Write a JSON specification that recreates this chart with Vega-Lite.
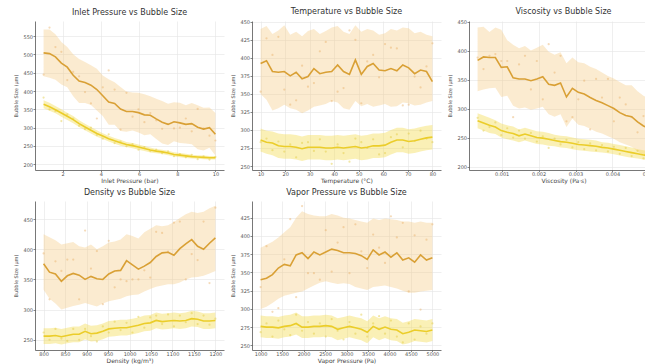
{
  "$schema": "https://vega.github.io/schema/vega-lite/v6.json",
  "background": "white",
  "padding": {"left": 13, "top": 7, "right": 0, "bottom": 0},
  "bounds": "flush",
  "columns": 3,
  "spacing": {"row": 31, "column": 28},
  "datasets": {
    "curves": [
      {"p":1,"x":1.00,"a":504,"alo":440,"ahi":568,"ar":445,"b":364,"blo":353,"bhi":375,"br":382},
      {"p":1,"x":1.31,"a":502,"alo":436,"ahi":568,"ar":573,"b":357,"blo":346,"bhi":368,"br":350},
      {"p":1,"x":1.62,"a":493,"alo":431,"ahi":555,"ar":520,"b":349,"blo":339,"bhi":359,"br":345},
      {"p":1,"x":1.93,"a":476,"alo":418,"ahi":534,"ar":507,"b":340,"blo":330,"bhi":350,"br":318},
      {"p":1,"x":2.24,"a":465,"alo":410,"ahi":520,"ar":430,"b":331,"blo":321,"bhi":341,"br":336},
      {"p":1,"x":2.55,"a":443,"alo":386,"ahi":500,"ar":452,"b":322,"blo":312,"bhi":332,"br":325},
      {"p":1,"x":2.86,"a":427,"alo":367,"ahi":487,"ar":440,"b":311,"blo":302,"bhi":320,"br":305},
      {"p":1,"x":3.17,"a":423,"alo":367,"ahi":479,"ar":397,"b":302,"blo":293,"bhi":311,"br":296},
      {"p":1,"x":3.48,"a":416,"alo":362,"ahi":470,"ar":366,"b":293,"blo":284,"bhi":302,"br":300},
      {"p":1,"x":3.79,"a":404,"alo":347,"ahi":461,"ar":325,"b":284,"blo":275,"bhi":293,"br":280},
      {"p":1,"x":4.10,"a":387,"alo":332,"ahi":442,"ar":410,"b":277,"blo":269,"bhi":285,"br":270},
      {"p":1,"x":4.41,"a":370,"alo":308,"ahi":432,"ar":456,"b":270,"blo":262,"bhi":278,"br":282},
      {"p":1,"x":4.72,"a":366,"alo":308,"ahi":424,"ar":404,"b":264,"blo":256,"bhi":272,"br":258},
      {"p":1,"x":5.03,"a":351,"alo":291,"ahi":411,"ar":295,"b":259,"blo":251,"bhi":267,"br":262},
      {"p":1,"x":5.34,"a":344,"alo":289,"ahi":399,"ar":395,"b":254,"blo":247,"bhi":261,"br":249},
      {"p":1,"x":5.66,"a":344,"alo":292,"ahi":396,"ar":330,"b":251,"blo":244,"bhi":258,"br":255},
      {"p":1,"x":5.97,"a":341,"alo":287,"ahi":395,"ar":350,"b":247,"blo":240,"bhi":254,"br":240},
      {"p":1,"x":6.28,"a":335,"alo":279,"ahi":391,"ar":315,"b":243,"blo":236,"bhi":250,"br":247},
      {"p":1,"x":6.59,"a":334,"alo":282,"ahi":386,"ar":340,"b":239,"blo":232,"bhi":246,"br":236},
      {"p":1,"x":6.90,"a":324,"alo":269,"ahi":379,"ar":320,"b":236,"blo":230,"bhi":242,"br":240},
      {"p":1,"x":7.21,"a":315,"alo":257,"ahi":373,"ar":297,"b":234,"blo":228,"bhi":240,"br":230},
      {"p":1,"x":7.52,"a":309,"alo":253,"ahi":365,"ar":310,"b":231,"blo":225,"bhi":237,"br":235},
      {"p":1,"x":7.83,"a":316,"alo":263,"ahi":369,"ar":298,"b":227,"blo":221,"bhi":233,"br":222},
      {"p":1,"x":8.14,"a":313,"alo":258,"ahi":368,"ar":300,"b":225,"blo":219,"bhi":231,"br":228},
      {"p":1,"x":8.45,"a":309,"alo":257,"ahi":361,"ar":325,"b":223,"blo":217,"bhi":229,"br":219},
      {"p":1,"x":8.76,"a":311,"alo":255,"ahi":367,"ar":290,"b":221,"blo":216,"bhi":226,"br":226},
      {"p":1,"x":9.07,"a":301,"alo":241,"ahi":361,"ar":351,"b":220,"blo":215,"bhi":225,"br":214},
      {"p":1,"x":9.38,"a":296,"alo":238,"ahi":354,"ar":298,"b":219,"blo":214,"bhi":224,"br":222},
      {"p":1,"x":9.69,"a":300,"alo":245,"ahi":355,"ar":278,"b":218,"blo":213,"bhi":223,"br":213},
      {"p":1,"x":10.00,"a":282,"alo":224,"ahi":340,"ar":265,"b":218,"blo":213,"bhi":223,"br":220},

      {"p":2,"x":10,"a":392,"alo":350,"ahi":440,"ar":353,"b":286,"blo":270,"bhi":302,"br":283},
      {"p":2,"x":12.41,"a":396,"alo":342,"ahi":444,"ar":427,"b":283,"blo":267,"bhi":299,"br":288},
      {"p":2,"x":14.83,"a":381,"alo":327,"ahi":433,"ar":404,"b":282,"blo":265,"bhi":298,"br":272},
      {"p":2,"x":17.24,"a":380,"alo":330,"ahi":438,"ar":429,"b":278,"blo":261,"bhi":295,"br":284},
      {"p":2,"x":19.66,"a":381,"alo":335,"ahi":445,"ar":356,"b":277,"blo":260,"bhi":294,"br":270},
      {"p":2,"x":22.07,"a":375,"alo":330,"ahi":432,"ar":335,"b":277,"blo":260,"bhi":294,"br":280},
      {"p":2,"x":24.48,"a":380,"alo":328,"ahi":436,"ar":341,"b":276,"blo":259,"bhi":293,"br":262},
      {"p":2,"x":26.90,"a":371,"alo":323,"ahi":430,"ar":389,"b":274,"blo":257,"bhi":291,"br":282},
      {"p":2,"x":29.31,"a":374,"alo":327,"ahi":437,"ar":360,"b":276,"blo":259,"bhi":293,"br":283},
      {"p":2,"x":31.72,"a":385,"alo":332,"ahi":440,"ar":365,"b":276,"blo":259,"bhi":293,"br":271},
      {"p":2,"x":34.14,"a":378,"alo":334,"ahi":433,"ar":409,"b":276,"blo":259,"bhi":293,"br":287},
      {"p":2,"x":36.55,"a":380,"alo":336,"ahi":437,"ar":422,"b":275,"blo":258,"bhi":292,"br":270},
      {"p":2,"x":38.97,"a":381,"alo":340,"ahi":442,"ar":340,"b":275,"blo":258,"bhi":292,"br":253},
      {"p":2,"x":41.38,"a":390,"alo":338,"ahi":444,"ar":353,"b":276,"blo":259,"bhi":293,"br":280},
      {"p":2,"x":43.79,"a":381,"alo":330,"ahi":436,"ar":358,"b":275,"blo":258,"bhi":292,"br":268},
      {"p":2,"x":46.21,"a":377,"alo":328,"ahi":433,"ar":438,"b":276,"blo":259,"bhi":293,"br":256},
      {"p":2,"x":48.62,"a":397,"alo":340,"ahi":445,"ar":425,"b":277,"blo":260,"bhi":294,"br":288},
      {"p":2,"x":51.03,"a":377,"alo":333,"ahi":436,"ar":337,"b":275,"blo":258,"bhi":292,"br":283},
      {"p":2,"x":53.45,"a":388,"alo":336,"ahi":440,"ar":395,"b":276,"blo":259,"bhi":293,"br":275},
      {"p":2,"x":55.86,"a":392,"alo":332,"ahi":438,"ar":404,"b":278,"blo":261,"bhi":295,"br":287},
      {"p":2,"x":58.28,"a":383,"alo":334,"ahi":432,"ar":373,"b":278,"blo":261,"bhi":295,"br":266},
      {"p":2,"x":60.69,"a":382,"alo":336,"ahi":434,"ar":419,"b":279,"blo":262,"bhi":296,"br":268},
      {"p":2,"x":63.10,"a":385,"alo":332,"ahi":440,"ar":414,"b":283,"blo":266,"bhi":300,"br":290},
      {"p":2,"x":65.52,"a":382,"alo":333,"ahi":438,"ar":413,"b":286,"blo":269,"bhi":303,"br":294},
      {"p":2,"x":67.93,"a":390,"alo":338,"ahi":442,"ar":334,"b":286,"blo":269,"bhi":303,"br":276},
      {"p":2,"x":70.34,"a":386,"alo":337,"ahi":441,"ar":335,"b":284,"blo":267,"bhi":301,"br":295},
      {"p":2,"x":72.76,"a":378,"alo":334,"ahi":434,"ar":374,"b":285,"blo":268,"bhi":302,"br":285},
      {"p":2,"x":75.17,"a":383,"alo":335,"ahi":436,"ar":359,"b":287,"blo":270,"bhi":304,"br":299},
      {"p":2,"x":77.59,"a":381,"alo":338,"ahi":432,"ar":388,"b":289,"blo":272,"bhi":306,"br":288},
      {"p":2,"x":80,"a":367,"alo":340,"ahi":430,"ar":420,"b":290,"blo":273,"bhi":307,"br":283},

      {"p":3,"x":0.00035,"a":383,"alo":330,"ahi":440,"ar":388,"b":279,"blo":266,"bhi":292,"br":284},
      {"p":3,"x":0.000510,"a":389,"alo":333,"ahi":441,"ar":368,"b":275,"blo":262,"bhi":288,"br":262},
      {"p":3,"x":0.000671,"a":388,"alo":335,"ahi":432,"ar":391,"b":271,"blo":258,"bhi":284,"br":268},
      {"p":3,"x":0.000831,"a":388,"alo":336,"ahi":440,"ar":394,"b":268,"blo":256,"bhi":280,"br":276},
      {"p":3,"x":0.000991,"a":371,"alo":320,"ahi":436,"ar":382,"b":262,"blo":250,"bhi":274,"br":254},
      {"p":3,"x":0.001152,"a":372,"alo":322,"ahi":418,"ar":382,"b":259,"blo":247,"bhi":271,"br":266},
      {"p":3,"x":0.001312,"a":353,"alo":305,"ahi":410,"ar":285,"b":257,"blo":245,"bhi":269,"br":250},
      {"p":3,"x":0.001472,"a":351,"alo":300,"ahi":404,"ar":376,"b":253,"blo":242,"bhi":264,"br":262},
      {"p":3,"x":0.001633,"a":351,"alo":302,"ahi":408,"ar":391,"b":256,"blo":245,"bhi":267,"br":248},
      {"p":3,"x":0.001793,"a":348,"alo":298,"ahi":400,"ar":333,"b":253,"blo":242,"bhi":264,"br":258},
      {"p":3,"x":0.001953,"a":351,"alo":300,"ahi":405,"ar":382,"b":250,"blo":239,"bhi":261,"br":243},
      {"p":3,"x":0.002114,"a":355,"alo":303,"ahi":410,"ar":316,"b":249,"blo":238,"bhi":260,"br":252},
      {"p":3,"x":0.002274,"a":342,"alo":290,"ahi":398,"ar":411,"b":247,"blo":236,"bhi":258,"br":232},
      {"p":3,"x":0.002434,"a":340,"alo":286,"ahi":393,"ar":362,"b":245,"blo":235,"bhi":255,"br":248},
      {"p":3,"x":0.002595,"a":344,"alo":290,"ahi":397,"ar":391,"b":243,"blo":233,"bhi":253,"br":238},
      {"p":3,"x":0.002755,"a":320,"alo":268,"ahi":378,"ar":278,"b":242,"blo":232,"bhi":252,"br":246},
      {"p":3,"x":0.002916,"a":335,"alo":283,"ahi":388,"ar":285,"b":240,"blo":230,"bhi":250,"br":233},
      {"p":3,"x":0.003076,"a":328,"alo":272,"ahi":380,"ar":316,"b":238,"blo":228,"bhi":248,"br":242},
      {"p":3,"x":0.003236,"a":325,"alo":270,"ahi":378,"ar":348,"b":237,"blo":227,"bhi":247,"br":230},
      {"p":3,"x":0.003397,"a":319,"alo":265,"ahi":372,"ar":264,"b":236,"blo":226,"bhi":246,"br":240},
      {"p":3,"x":0.003557,"a":314,"alo":260,"ahi":368,"ar":351,"b":235,"blo":225,"bhi":245,"br":228},
      {"p":3,"x":0.003717,"a":310,"alo":257,"ahi":362,"ar":319,"b":233,"blo":224,"bhi":242,"br":237},
      {"p":3,"x":0.003878,"a":305,"alo":252,"ahi":356,"ar":351,"b":232,"blo":223,"bhi":241,"br":226},
      {"p":3,"x":0.004038,"a":300,"alo":248,"ahi":352,"ar":278,"b":230,"blo":221,"bhi":239,"br":234},
      {"p":3,"x":0.004198,"a":293,"alo":242,"ahi":346,"ar":319,"b":228,"blo":219,"bhi":237,"br":222},
      {"p":3,"x":0.004359,"a":288,"alo":238,"ahi":340,"ar":307,"b":226,"blo":217,"bhi":235,"br":232},
      {"p":3,"x":0.004519,"a":286,"alo":234,"ahi":340,"ar":285,"b":224,"blo":215,"bhi":233,"br":218},
      {"p":3,"x":0.004679,"a":277,"alo":226,"ahi":330,"ar":259,"b":222,"blo":214,"bhi":230,"br":227},
      {"p":3,"x":0.004840,"a":270,"alo":220,"ahi":322,"ar":287,"b":220,"blo":212,"bhi":228,"br":214},
      {"p":3,"x":0.005000,"a":266,"alo":216,"ahi":318,"ar":302,"b":219,"blo":211,"bhi":227,"br":223},

      {"p":4,"x":800,"a":376,"alo":333,"ahi":425,"ar":393,"b":256,"blo":243,"bhi":269,"br":262},
      {"p":4,"x":813.8,"a":362,"alo":318,"ahi":420,"ar":317,"b":256,"blo":243,"bhi":269,"br":250},
      {"p":4,"x":827.6,"a":359,"alo":310,"ahi":415,"ar":380,"b":257,"blo":244,"bhi":270,"br":268},
      {"p":4,"x":841.4,"a":347,"alo":300,"ahi":408,"ar":364,"b":255,"blo":242,"bhi":268,"br":252},
      {"p":4,"x":855.2,"a":356,"alo":303,"ahi":410,"ar":383,"b":257,"blo":244,"bhi":270,"br":248},
      {"p":4,"x":869.0,"a":360,"alo":306,"ahi":412,"ar":383,"b":259,"blo":246,"bhi":272,"br":268},
      {"p":4,"x":882.8,"a":357,"alo":308,"ahi":405,"ar":317,"b":259,"blo":246,"bhi":272,"br":250},
      {"p":4,"x":896.6,"a":350,"alo":311,"ahi":403,"ar":431,"b":264,"blo":251,"bhi":277,"br":268},
      {"p":4,"x":910.3,"a":355,"alo":308,"ahi":408,"ar":368,"b":260,"blo":247,"bhi":273,"br":256},
      {"p":4,"x":924.1,"a":351,"alo":305,"ahi":400,"ar":397,"b":261,"blo":248,"bhi":274,"br":247},
      {"p":4,"x":937.9,"a":350,"alo":310,"ahi":405,"ar":309,"b":264,"blo":251,"bhi":277,"br":272},
      {"p":4,"x":951.7,"a":359,"alo":314,"ahi":411,"ar":414,"b":268,"blo":255,"bhi":281,"br":262},
      {"p":4,"x":965.5,"a":364,"alo":316,"ahi":413,"ar":337,"b":269,"blo":256,"bhi":282,"br":280},
      {"p":4,"x":979.3,"a":365,"alo":318,"ahi":416,"ar":350,"b":270,"blo":257,"bhi":283,"br":266},
      {"p":4,"x":993.1,"a":381,"alo":322,"ahi":425,"ar":347,"b":270,"blo":257,"bhi":283,"br":278},
      {"p":4,"x":1006.9,"a":374,"alo":324,"ahi":422,"ar":350,"b":272,"blo":259,"bhi":285,"br":262},
      {"p":4,"x":1020.7,"a":367,"alo":325,"ahi":418,"ar":350,"b":274,"blo":261,"bhi":287,"br":288},
      {"p":4,"x":1034.5,"a":372,"alo":330,"ahi":428,"ar":365,"b":277,"blo":264,"bhi":290,"br":270},
      {"p":4,"x":1048.3,"a":378,"alo":334,"ahi":434,"ar":353,"b":278,"blo":265,"bhi":291,"br":287},
      {"p":4,"x":1062.1,"a":388,"alo":338,"ahi":440,"ar":429,"b":282,"blo":269,"bhi":295,"br":290},
      {"p":4,"x":1075.9,"a":394,"alo":340,"ahi":438,"ar":427,"b":280,"blo":267,"bhi":293,"br":276},
      {"p":4,"x":1089.7,"a":395,"alo":342,"ahi":440,"ar":396,"b":281,"blo":268,"bhi":294,"br":292},
      {"p":4,"x":1103.4,"a":390,"alo":342,"ahi":445,"ar":444,"b":282,"blo":269,"bhi":295,"br":272},
      {"p":4,"x":1117.2,"a":401,"alo":345,"ahi":452,"ar":446,"b":281,"blo":268,"bhi":294,"br":290},
      {"p":4,"x":1131.0,"a":409,"alo":350,"ahi":458,"ar":350,"b":282,"blo":269,"bhi":295,"br":279},
      {"p":4,"x":1144.8,"a":416,"alo":353,"ahi":462,"ar":392,"b":285,"blo":272,"bhi":298,"br":294},
      {"p":4,"x":1158.6,"a":405,"alo":354,"ahi":460,"ar":382,"b":284,"blo":271,"bhi":297,"br":276},
      {"p":4,"x":1172.4,"a":400,"alo":356,"ahi":462,"ar":446,"b":281,"blo":268,"bhi":294,"br":290},
      {"p":4,"x":1186.2,"a":410,"alo":360,"ahi":468,"ar":344,"b":281,"blo":268,"bhi":294,"br":275},
      {"p":4,"x":1200,"a":419,"alo":364,"ahi":472,"ar":469,"b":282,"blo":269,"bhi":295,"br":285},

      {"p":5,"x":1000,"a":340,"alo":300,"ahi":384,"ar":330,"b":276,"blo":261,"bhi":291,"br":268},
      {"p":5,"x":1137.9,"a":342,"alo":303,"ahi":388,"ar":386,"b":275,"blo":260,"bhi":290,"br":280},
      {"p":5,"x":1275.9,"a":347,"alo":308,"ahi":392,"ar":296,"b":275,"blo":260,"bhi":290,"br":262},
      {"p":5,"x":1413.8,"a":356,"alo":314,"ahi":398,"ar":301,"b":274,"blo":259,"bhi":289,"br":284},
      {"p":5,"x":1551.7,"a":361,"alo":318,"ahi":405,"ar":368,"b":276,"blo":261,"bhi":291,"br":272},
      {"p":5,"x":1689.7,"a":359,"alo":320,"ahi":412,"ar":423,"b":277,"blo":262,"bhi":292,"br":264},
      {"p":5,"x":1827.6,"a":374,"alo":322,"ahi":425,"ar":316,"b":280,"blo":265,"bhi":295,"br":292},
      {"p":5,"x":1965.5,"a":377,"alo":324,"ahi":434,"ar":441,"b":275,"blo":260,"bhi":290,"br":270},
      {"p":5,"x":2103.4,"a":369,"alo":328,"ahi":430,"ar":349,"b":275,"blo":260,"bhi":290,"br":282},
      {"p":5,"x":2241.4,"a":378,"alo":332,"ahi":428,"ar":349,"b":276,"blo":261,"bhi":291,"br":266},
      {"p":5,"x":2379.3,"a":374,"alo":336,"ahi":427,"ar":340,"b":276,"blo":261,"bhi":291,"br":280},
      {"p":5,"x":2517.2,"a":378,"alo":338,"ahi":427,"ar":408,"b":277,"blo":262,"bhi":292,"br":262},
      {"p":5,"x":2655.2,"a":382,"alo":336,"ahi":430,"ar":351,"b":276,"blo":261,"bhi":291,"br":286},
      {"p":5,"x":2793.1,"a":380,"alo":334,"ahi":428,"ar":391,"b":272,"blo":257,"bhi":287,"br":270},
      {"p":5,"x":2931.0,"a":377,"alo":335,"ahi":425,"ar":412,"b":274,"blo":259,"bhi":289,"br":258},
      {"p":5,"x":3069.0,"a":377,"alo":334,"ahi":424,"ar":349,"b":276,"blo":261,"bhi":291,"br":282},
      {"p":5,"x":3206.9,"a":376,"alo":330,"ahi":422,"ar":416,"b":274,"blo":259,"bhi":289,"br":266},
      {"p":5,"x":3344.8,"a":373,"alo":328,"ahi":420,"ar":379,"b":272,"blo":257,"bhi":287,"br":292},
      {"p":5,"x":3482.8,"a":368,"alo":326,"ahi":418,"ar":356,"b":268,"blo":253,"bhi":283,"br":262},
      {"p":5,"x":3620.7,"a":381,"alo":330,"ahi":424,"ar":402,"b":276,"blo":261,"bhi":291,"br":280},
      {"p":5,"x":3758.6,"a":374,"alo":331,"ahi":422,"ar":384,"b":272,"blo":257,"bhi":287,"br":290},
      {"p":5,"x":3896.6,"a":378,"alo":332,"ahi":424,"ar":363,"b":275,"blo":260,"bhi":290,"br":266},
      {"p":5,"x":4034.5,"a":371,"alo":330,"ahi":423,"ar":427,"b":272,"blo":257,"bhi":287,"br":284},
      {"p":5,"x":4172.4,"a":377,"alo":328,"ahi":422,"ar":398,"b":271,"blo":256,"bhi":286,"br":262},
      {"p":5,"x":4310.3,"a":367,"alo":325,"ahi":420,"ar":418,"b":266,"blo":251,"bhi":281,"br":254},
      {"p":5,"x":4448.3,"a":370,"alo":322,"ahi":420,"ar":324,"b":268,"blo":253,"bhi":283,"br":280},
      {"p":5,"x":4586.2,"a":364,"alo":322,"ahi":418,"ar":401,"b":271,"blo":256,"bhi":286,"br":258},
      {"p":5,"x":4724.1,"a":374,"alo":324,"ahi":420,"ar":299,"b":270,"blo":255,"bhi":285,"br":276},
      {"p":5,"x":4862.1,"a":367,"alo":325,"ahi":418,"ar":395,"b":269,"blo":254,"bhi":284,"br":266},
      {"p":5,"x":5000,"a":370,"alo":326,"ahi":418,"ar":416,"b":271,"blo":256,"bhi":286,"br":280}
    ]
  },
  "concat": [
    {
      "title": "Inlet Pressure vs Bubble Size",
      "width": 189, "height": 149,
      "data": {"name": "curves"},
      "transform": [{"filter": "datum.p == 1"}],
      "encoding": {
        "x": {"field": "x", "type": "quantitative", "title": "Inlet Pressure (bar)",
              "scale": {"domain": [0.55, 10.45], "nice": false, "zero": false},
              "axis": {"values": [2, 4, 6, 8, 10]}}
      },
      "layer": [
        {"mark": {"type": "area", "color": "#f5c77e", "opacity": 0.36},
         "encoding": {"y": {"field": "alo", "type": "quantitative", "title": "Bubble Size (μm)",
                            "scale": {"domain": [184.5, 591], "nice": false, "zero": false},
                            "axis": {"values": [200, 250, 300, 350, 400, 450, 500, 550]}},
                      "y2": {"field": "ahi"}}},
        {"mark": {"type": "area", "color": "#f2dc50", "opacity": 0.42},
         "encoding": {"y": {"field": "blo", "type": "quantitative", "title": "Bubble Size (μm)",
                            "axis": {"values": [200, 250, 300, 350, 400, 450, 500, 550]}}, "y2": {"field": "bhi"}}},
        {"mark": {"type": "circle", "color": "#e8b065", "opacity": 0.45, "size": 5},
         "encoding": {"y": {"field": "ar", "type": "quantitative", "title": "Bubble Size (μm)",
                            "axis": {"values": [200, 250, 300, 350, 400, 450, 500, 550]}}}},
        {"mark": {"type": "circle", "color": "#e3c93c", "opacity": 0.45, "size": 5},
         "encoding": {"y": {"field": "br", "type": "quantitative", "title": "Bubble Size (μm)",
                            "axis": {"values": [200, 250, 300, 350, 400, 450, 500, 550]}}}},
        {"mark": {"type": "line", "color": "#d9a035", "strokeWidth": 1.6},
         "encoding": {"y": {"field": "a", "type": "quantitative", "title": "Bubble Size (μm)",
                            "axis": {"values": [200, 250, 300, 350, 400, 450, 500, 550]}}}},
        {"mark": {"type": "line", "color": "#ebcd2a", "strokeWidth": 1.6},
         "encoding": {"y": {"field": "b", "type": "quantitative", "title": "Bubble Size (μm)",
                            "axis": {"values": [200, 250, 300, 350, 400, 450, 500, 550]}}}}
      ]
    },
    {
      "title": "Temperature vs Bubble Size",
      "width": 189, "height": 149,
      "data": {"name": "curves"},
      "transform": [{"filter": "datum.p == 2"}],
      "encoding": {
        "x": {"field": "x", "type": "quantitative", "title": "Temperature (°C)",
              "scale": {"domain": [6.5, 83.5], "nice": false, "zero": false},
              "axis": {"values": [10, 20, 30, 40, 50, 60, 70, 80]}}
      },
      "layer": [
        {"mark": {"type": "area", "color": "#f5c77e", "opacity": 0.36},
         "encoding": {"y": {"field": "alo", "type": "quantitative", "title": "Bubble Size (μm)",
                            "scale": {"domain": [244.5, 451], "nice": false, "zero": false},
                            "axis": {"values": [250, 275, 300, 325, 350, 375, 400, 425, 450]}},
                      "y2": {"field": "ahi"}}},
        {"mark": {"type": "area", "color": "#f2dc50", "opacity": 0.42},
         "encoding": {"y": {"field": "blo", "type": "quantitative", "title": "Bubble Size (μm)",
                            "axis": {"values": [250, 275, 300, 325, 350, 375, 400, 425, 450]}}, "y2": {"field": "bhi"}}},
        {"mark": {"type": "circle", "color": "#e8b065", "opacity": 0.45, "size": 5},
         "encoding": {"y": {"field": "ar", "type": "quantitative", "title": "Bubble Size (μm)",
                            "axis": {"values": [250, 275, 300, 325, 350, 375, 400, 425, 450]}}}},
        {"mark": {"type": "circle", "color": "#e3c93c", "opacity": 0.45, "size": 5},
         "encoding": {"y": {"field": "br", "type": "quantitative", "title": "Bubble Size (μm)",
                            "axis": {"values": [250, 275, 300, 325, 350, 375, 400, 425, 450]}}}},
        {"mark": {"type": "line", "color": "#d9a035", "strokeWidth": 1.6},
         "encoding": {"y": {"field": "a", "type": "quantitative", "title": "Bubble Size (μm)",
                            "axis": {"values": [250, 275, 300, 325, 350, 375, 400, 425, 450]}}}},
        {"mark": {"type": "line", "color": "#ebcd2a", "strokeWidth": 1.6},
         "encoding": {"y": {"field": "b", "type": "quantitative", "title": "Bubble Size (μm)",
                            "axis": {"values": [250, 275, 300, 325, 350, 375, 400, 425, 450]}}}}
      ]
    },
    {
      "title": "Viscosity vs Bubble Size",
      "width": 189, "height": 149,
      "data": {"name": "curves"},
      "transform": [{"filter": "datum.p == 3"}],
      "encoding": {
        "x": {"field": "x", "type": "quantitative", "title": "Viscosity (Pa·s)",
              "scale": {"domain": [0.0001175, 0.0052325], "nice": false, "zero": false},
              "axis": {"values": [0.001, 0.002, 0.003, 0.004, 0.005], "format": ".3f"}}
      },
      "layer": [
        {"mark": {"type": "area", "color": "#f5c77e", "opacity": 0.36},
         "encoding": {"y": {"field": "alo", "type": "quantitative", "title": "Bubble Size (μm)",
                            "scale": {"domain": [194, 451], "nice": false, "zero": false},
                            "axis": {"values": [200, 250, 300, 350, 400, 450]}},
                      "y2": {"field": "ahi"}}},
        {"mark": {"type": "area", "color": "#f2dc50", "opacity": 0.42},
         "encoding": {"y": {"field": "blo", "type": "quantitative", "title": "Bubble Size (μm)",
                            "axis": {"values": [200, 250, 300, 350, 400, 450]}}, "y2": {"field": "bhi"}}},
        {"mark": {"type": "circle", "color": "#e8b065", "opacity": 0.45, "size": 5},
         "encoding": {"y": {"field": "ar", "type": "quantitative", "title": "Bubble Size (μm)",
                            "axis": {"values": [200, 250, 300, 350, 400, 450]}}}},
        {"mark": {"type": "circle", "color": "#e3c93c", "opacity": 0.45, "size": 5},
         "encoding": {"y": {"field": "br", "type": "quantitative", "title": "Bubble Size (μm)",
                            "axis": {"values": [200, 250, 300, 350, 400, 450]}}}},
        {"mark": {"type": "line", "color": "#d9a035", "strokeWidth": 1.6},
         "encoding": {"y": {"field": "a", "type": "quantitative", "title": "Bubble Size (μm)",
                            "axis": {"values": [200, 250, 300, 350, 400, 450]}}}},
        {"mark": {"type": "line", "color": "#ebcd2a", "strokeWidth": 1.6},
         "encoding": {"y": {"field": "b", "type": "quantitative", "title": "Bubble Size (μm)",
                            "axis": {"values": [200, 250, 300, 350, 400, 450]}}}}
      ]
    },
    {
      "title": "Density vs Bubble Size",
      "width": 189, "height": 149,
      "data": {"name": "curves"},
      "transform": [{"filter": "datum.p == 4"}],
      "encoding": {
        "x": {"field": "x", "type": "quantitative", "title": "Density (kg/m³)",
              "scale": {"domain": [780, 1220], "nice": false, "zero": false},
              "axis": {"values": [800, 850, 900, 950, 1000, 1050, 1100, 1150, 1200], "format": "d"}}
      },
      "layer": [
        {"mark": {"type": "area", "color": "#f5c77e", "opacity": 0.36},
         "encoding": {"y": {"field": "alo", "type": "quantitative", "title": "Bubble Size (μm)",
                            "scale": {"domain": [233, 480], "nice": false, "zero": false},
                            "axis": {"values": [250, 300, 350, 400, 450]}},
                      "y2": {"field": "ahi"}}},
        {"mark": {"type": "area", "color": "#f2dc50", "opacity": 0.42},
         "encoding": {"y": {"field": "blo", "type": "quantitative", "title": "Bubble Size (μm)",
                            "axis": {"values": [250, 300, 350, 400, 450]}}, "y2": {"field": "bhi"}}},
        {"mark": {"type": "circle", "color": "#e8b065", "opacity": 0.45, "size": 5},
         "encoding": {"y": {"field": "ar", "type": "quantitative", "title": "Bubble Size (μm)",
                            "axis": {"values": [250, 300, 350, 400, 450]}}}},
        {"mark": {"type": "circle", "color": "#e3c93c", "opacity": 0.45, "size": 5},
         "encoding": {"y": {"field": "br", "type": "quantitative", "title": "Bubble Size (μm)",
                            "axis": {"values": [250, 300, 350, 400, 450]}}}},
        {"mark": {"type": "line", "color": "#d9a035", "strokeWidth": 1.6},
         "encoding": {"y": {"field": "a", "type": "quantitative", "title": "Bubble Size (μm)",
                            "axis": {"values": [250, 300, 350, 400, 450]}}}},
        {"mark": {"type": "line", "color": "#ebcd2a", "strokeWidth": 1.6},
         "encoding": {"y": {"field": "b", "type": "quantitative", "title": "Bubble Size (μm)",
                            "axis": {"values": [250, 300, 350, 400, 450]}}}}
      ]
    },
    {
      "title": "Vapor Pressure vs Bubble Size",
      "width": 189, "height": 149,
      "data": {"name": "curves"},
      "transform": [{"filter": "datum.p == 5"}],
      "encoding": {
        "x": {"field": "x", "type": "quantitative", "title": "Vapor Pressure (Pa)",
              "scale": {"domain": [800, 5200], "nice": false, "zero": false},
              "axis": {"values": [1000, 1500, 2000, 2500, 3000, 3500, 4000, 4500, 5000], "format": "d"}}
      },
      "layer": [
        {"mark": {"type": "area", "color": "#f5c77e", "opacity": 0.36},
         "encoding": {"y": {"field": "alo", "type": "quantitative", "title": "Bubble Size (μm)",
                            "scale": {"domain": [243.6, 448], "nice": false, "zero": false},
                            "axis": {"values": [250, 275, 300, 325, 350, 375, 400, 425]}},
                      "y2": {"field": "ahi"}}},
        {"mark": {"type": "area", "color": "#f2dc50", "opacity": 0.42},
         "encoding": {"y": {"field": "blo", "type": "quantitative", "title": "Bubble Size (μm)",
                            "axis": {"values": [250, 275, 300, 325, 350, 375, 400, 425]}}, "y2": {"field": "bhi"}}},
        {"mark": {"type": "circle", "color": "#e8b065", "opacity": 0.45, "size": 5},
         "encoding": {"y": {"field": "ar", "type": "quantitative", "title": "Bubble Size (μm)",
                            "axis": {"values": [250, 275, 300, 325, 350, 375, 400, 425]}}}},
        {"mark": {"type": "circle", "color": "#e3c93c", "opacity": 0.45, "size": 5},
         "encoding": {"y": {"field": "br", "type": "quantitative", "title": "Bubble Size (μm)",
                            "axis": {"values": [250, 275, 300, 325, 350, 375, 400, 425]}}}},
        {"mark": {"type": "line", "color": "#d9a035", "strokeWidth": 1.6},
         "encoding": {"y": {"field": "a", "type": "quantitative", "title": "Bubble Size (μm)",
                            "axis": {"values": [250, 275, 300, 325, 350, 375, 400, 425]}}}},
        {"mark": {"type": "line", "color": "#ebcd2a", "strokeWidth": 1.6},
         "encoding": {"y": {"field": "b", "type": "quantitative", "title": "Bubble Size (μm)",
                            "axis": {"values": [250, 275, 300, 325, 350, 375, 400, 425]}}}}
      ]
    }
  ],
  "config": {
    "font": "DejaVu Sans",
    "view": {"stroke": null},
    "title": {"fontSize": 8, "fontWeight": "normal", "color": "#333333", "offset": 4, "anchor": "middle"},
    "axis": {
      "labelFontSize": 5, "titleFontWeight": "normal",
      "labelColor": "#555555", "titleColor": "#444444",
      "domainColor": "#555555", "domainWidth": 0.8,
      "tickColor": "#555555", "tickWidth": 0.7,
      "gridColor": "#e4e4e4", "gridWidth": 0.6,
      "labelFlush": false, "labelOverlap": false
    },
    "axisX": {"tickSize": 1.5, "labelPadding": 0.3, "titleFontSize": 6, "titlePadding": 0.8},
    "axisY": {"tickSize": 2, "labelPadding": 0.5, "titleFontSize": 5, "titlePadding": 4}
  }
}
